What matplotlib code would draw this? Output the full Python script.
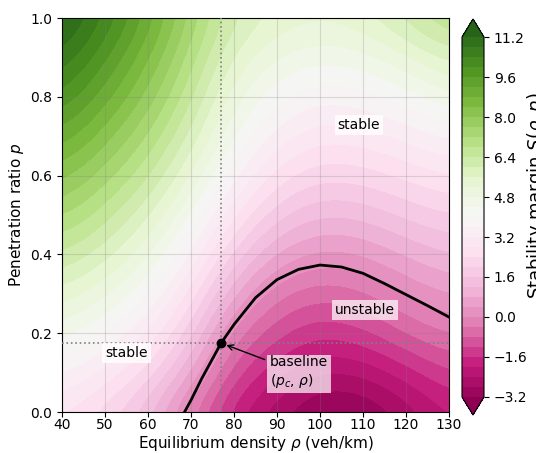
import numpy as np
import matplotlib
matplotlib.use("Agg")
import matplotlib.pyplot as plt
from matplotlib.colors import BoundaryNorm

# ---- data ----
rho_grid = [40, 50, 60, 70, 80, 90, 100, 110, 120, 130]          # veh/km
p_grid = [0.0, 0.1, 0.2, 0.3, 0.4, 0.5, 0.6, 0.7, 0.8, 0.9, 1.0]  # penetration ratio

# stability margin S(rho, p): one row per p value, one column per rho value
stability_margin = [
    [2.8, 2.2, 1.3, -0.3, -1.9, -2.7, -3.35, -3.3, -2.7, -2.0],
    [3.7, 3.1, 2.3, 0.8, -1.1, -1.9, -2.45, -2.35, -1.8, -1.2],
    [4.6, 4.0, 3.2, 1.8, -0.28, -1.1, -1.55, -1.3, -0.75, -0.35],
    [5.5, 4.9, 4.1, 2.7, 0.8, -0.35, -0.7, -0.5, 0.03, 0.45],
    [6.4, 5.8, 4.9, 3.6, 1.85, 0.7, 0.25, 0.4, 0.85, 1.2],
    [7.3, 6.6, 5.7, 4.4, 2.85, 1.7, 1.2, 1.3, 1.7, 2.0],
    [8.2, 7.4, 6.5, 5.2, 3.7, 2.6, 2.1, 2.2, 2.5, 2.8],
    [9.1, 8.2, 7.2, 5.9, 4.4, 3.4, 2.9, 3.0, 3.3, 3.7],
    [10.0, 9.0, 7.9, 6.5, 4.95, 4.1, 3.7, 3.85, 4.2, 4.7],
    [10.8, 9.7, 8.5, 7.0, 5.5, 4.8, 4.5, 4.65, 5.1, 5.8],
    [11.5, 10.4, 9.1, 7.5, 6.05, 5.5, 5.3, 5.5, 6.2, 6.9],
]

# neutral-stability boundary S = 0
rho_boundary = [68.5, 70, 72.5, 75, 77, 80, 85, 90, 95, 100, 105, 110, 115, 120, 125, 130]
p_boundary = [0.0, 0.03, 0.085, 0.135, 0.175, 0.222, 0.29, 0.336, 0.362, 0.373, 0.368,
              0.352, 0.326, 0.298, 0.27, 0.241]

# baseline operating point
rho_c = 77.0
p_c = 0.175

level_min, level_max, level_step = -3.2, 11.2, 0.4

# ---- figure ----
W, H = 536, 453
fig = plt.figure(figsize=(W / 100, H / 100), dpi=100)
ax = fig.add_axes([62 / W, 41 / H, 387 / W, 394 / H])
cax = fig.add_axes([462 / W, 38 / H, 22 / W, 396 / H])

levels = np.round(np.arange(level_min, level_max + 1e-9, level_step), 2)
cmap = plt.get_cmap("PiYG")
norm = BoundaryNorm(levels, ncolors=cmap.N, extend="both")

S = np.array(stability_margin)
drho = rho_grid[1] - rho_grid[0]
dp = p_grid[1] - p_grid[0]
im = ax.imshow(S, origin="lower", cmap=cmap, norm=norm, aspect="auto",
               interpolation="bicubic", interpolation_stage="data",
               extent=[rho_grid[0] - drho / 2, rho_grid[-1] + drho / 2,
                       p_grid[0] - dp / 2, p_grid[-1] + dp / 2])

ax.plot(rho_boundary, p_boundary, color="black", lw=2.0, zorder=4)

ax.axvline(rho_c, color="gray", ls=":", lw=1.2, zorder=3)
ax.axhline(p_c, color="gray", ls=":", lw=1.2, zorder=3)
ax.plot([rho_c], [p_c], "o", color="black", ms=6, zorder=5)

ax.annotate("baseline\n($p_c$, $\\rho$)", xy=(rho_c, p_c), xytext=(88.4, 0.10),
            ha="left", va="center", fontsize=10,
            bbox=dict(boxstyle="square,pad=0.2", fc="white", ec="none", alpha=0.7),
            arrowprops=dict(arrowstyle="->", color="black", lw=1.0, shrinkB=4),
            zorder=6)

box_kw = dict(boxstyle="square,pad=0.2", fc="white", ec="none", alpha=0.8)
ax.text(109, 0.728, "stable", ha="center", va="center", fontsize=10, bbox=box_kw, zorder=6)
ax.text(55, 0.15, "stable", ha="center", va="center", fontsize=10, bbox=box_kw, zorder=6)
ax.text(110.5, 0.259, "unstable", ha="center", va="center", fontsize=10,
        bbox=dict(boxstyle="square,pad=0.2", fc="white", ec="none", alpha=0.7), zorder=6)

ax.set_xlim(40, 130)
ax.set_ylim(0, 1)
ax.set_xticks(np.arange(40, 131, 10))
ax.set_yticks(np.arange(0, 1.01, 0.2))
ax.tick_params(labelsize=10)
ax.tick_params(axis="x", pad=1)
ax.grid(True, color="0.5", lw=0.8, alpha=0.25)
ax.set_xlabel("Equilibrium density $\\rho$ (veh/km)", fontsize=11, labelpad=1)
ax.set_ylabel("Penetration ratio $p$", fontsize=11, labelpad=3)

cb = fig.colorbar(im, cax=cax, extend="both", ticks=levels[::4])
cb.minorticks_off()
cb.ax.tick_params(labelsize=10)
cb.set_label("Stability margin $S(\\rho, p)$", fontsize=13, labelpad=-1.5)
cb.ax.yaxis.label.set_y(0.56)

fig.savefig("out.png", dpi=100)
